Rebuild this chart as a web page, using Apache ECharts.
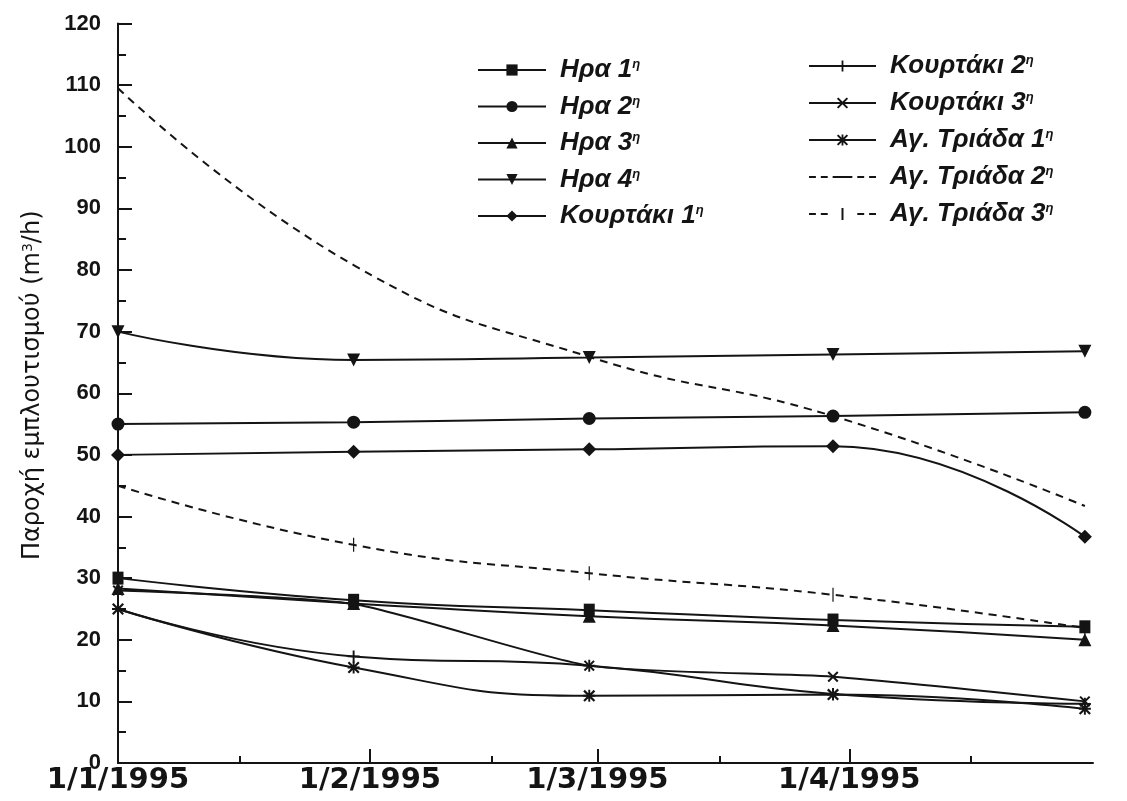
<!DOCTYPE html>
<html>
<head>
<meta charset="utf-8">
<script src="https://cdn.jsdelivr.net/npm/echarts@6/dist/echarts.min.js"></script>
<style>
  html, body { margin: 0; padding: 0; background: #ffffff; }
  #chart { width: 1127px; height: 801px; }
</style>
</head>
<body>
<div id="chart"></div>
<script>
// ---- data ----
const dates = ['1995-01-01', '1995-01-30', '1995-02-28', '1995-03-30', '1995-04-30'];
const majorTickDates = ['1995-01-01', '1995-02-01', '1995-03-01', '1995-04-01'];
const minorTickDates = ['1995-01-16', '1995-02-16', '1995-03-16', '1995-04-16'];
const axisStart = '1995-01-01';
const axisEnd = '1995-05-01';

const hera1 = [30, 26.4, 24.8, 23.2, 22.1];
const hera2 = [55, 55.3, 55.9, 56.3, 56.9];
const hera3 = [28.3, 25.9, 23.8, 22.3, 20];
const hera4 = [70, 65.4, 65.8, 66.3, 66.8];
const kourtaki1 = [50, 50.5, 50.9, 51.4, 36.7];
const kourtaki2 = [25, 17.3, 15.8, 11.2, 9.6];
const kourtaki3 = [28, 25.8, 15.8, 14, 10];
const agTriada1 = [25, 15.5, 10.9, 11.1, 8.8];
const agTriada2 = [109.5, 80.8, 65.9, 56.3, 41.7];
const agTriada3 = [45, 35.4, 30.8, 27.3, 21.9];

const seriesNames = ['Ηρα 1η', 'Ηρα 2η', 'Ηρα 3η', 'Ηρα 4η', 'Κουρτάκι 1η',
                     'Κουρτάκι 2η', 'Κουρτάκι 3η', 'Αγ. Τριάδα 1η', 'Αγ. Τριάδα 2η', 'Αγ. Τριάδα 3η'];

// ---- helpers ----
const toTs = s => { const p = s.split('-').map(Number); return Date.UTC(p[0], p[1] - 1, p[2]); };
const fmtDate = v => { const d = new Date(v); return d.getUTCDate() + '/' + (d.getUTCMonth() + 1) + '/' + d.getUTCFullYear(); };
const pairs = vals => dates.map((d, i) => [toTs(d), vals[i]]);

const INK = '#141414';
const FONT = '"Liberation Sans", Arial, sans-serif';
const WIDE = '"DejaVu Sans", "Liberation Sans", sans-serif';

const PLUS = 'path://M4.2,0 H5.8 V4.2 H10 V5.8 H5.8 V10 H4.2 V5.8 H0 V4.2 H4.2 Z';
const CROSS = 'path://M0,1.3 L1.3,0 L10,8.7 L8.7,10 Z M8.7,0 L10,1.3 L1.3,10 L0,8.7 Z';
const STAR = 'path://M0,1.3 L1.3,0 L10,8.7 L8.7,10 Z M8.7,0 L10,1.3 L1.3,10 L0,8.7 Z M4.2,0 H5.8 V10 H4.2 Z M0,4.2 H10 V5.8 H0 Z';
const BAR = 'path://M0,0 H3 V10 H0 Z';
// legend icons for the dashed series (68 x 14 box)
const ICON_AT2 = 'path://M0,6 H7 V8 H0 Z M12,6 H19 V8 H12 Z M24,6 H44 V8 H24 Z M49,6 H56 V8 H49 Z M61,6 H68 V8 H61 Z';
const ICON_AT3 = 'path://M0,6 H7 V8 H0 Z M12,6 H19 V8 H12 Z M33,1 H35 V13 H33 Z M49,6 H56 V8 H49 Z M61,6 H68 V8 H61 Z';

function mk(name, vals, symbol, size, extra) {
  return Object.assign({
    name: name,
    type: 'line',
    data: pairs(vals),
    smooth: 0.5,
    clip: false,
    symbol: symbol,
    symbolSize: size,
    showSymbol: symbol !== 'none',
    lineStyle: { color: INK, width: 2, type: 'solid' },
    itemStyle: { color: INK, borderWidth: 0 },
    emphasis: { disabled: true }
  }, extra || {});
}

const series = [
  mk(seriesNames[0], hera1, 'rect', [11, 13]),
  mk(seriesNames[1], hera2, 'circle', 13),
  mk(seriesNames[2], hera3, 'triangle', 13),
  mk(seriesNames[3], hera4, 'triangle', 13, { symbolRotate: 180 }),
  mk(seriesNames[4], kourtaki1, 'diamond', 14),
  mk(seriesNames[5], kourtaki2, PLUS, 12),
  mk(seriesNames[6], kourtaki3, CROSS, 11, { smooth: 0.2 }),
  mk(seriesNames[7], agTriada1, STAR, 12),
  mk(seriesNames[8], agTriada2, 'none', 0, { lineStyle: { color: INK, width: 2, type: [8, 6] } }),
  mk(seriesNames[9], agTriada3, BAR, [4, 14], { symbolKeepAspect: true, lineStyle: { color: INK, width: 2, type: [8, 6] } })
];

const legendText = {
  color: INK, fontFamily: FONT, fontStyle: 'italic', fontWeight: 'bold', fontSize: 26,
  lineHeight: 24, padding: [0, 0, 0, 9],
  rich: { sup: { fontFamily: FONT, fontStyle: 'italic', fontSize: 13, color: INK, verticalAlign: 'top', lineHeight: 14, padding: [0, 0, 10, 0] } }
};
const legendFmt = n => n.replace(/(\d)η$/, '$1{sup|η}');

const legend2Data = seriesNames.slice(5).map(n => {
  if (n === seriesNames[8]) return { name: n, icon: ICON_AT2 };
  if (n === seriesNames[9]) return { name: n, icon: ICON_AT3 };
  return { name: n };
});

const chart = echarts.init(document.getElementById('chart'), null, { renderer: 'canvas' });
chart.setOption({
  animation: false,
  backgroundColor: '#ffffff',
  grid: { left: 118, right: 34, top: 23.5, bottom: 38, containLabel: false },
  legend: [
    {
      data: seriesNames.slice(0, 5), orient: 'vertical', left: 472, top: 52,
      itemWidth: 68, itemHeight: 14, itemGap: 10.5, textStyle: legendText, formatter: legendFmt,
      selectedMode: false
    },
    {
      data: legend2Data, orient: 'vertical', left: 803, top: 48,
      itemWidth: 67, itemHeight: 14, itemGap: 11, textStyle: legendText, formatter: legendFmt,
      selectedMode: false, symbolKeepAspect: true
    }
  ],
  xAxis: [
    {
      type: 'value', min: toTs(axisStart), max: toTs(axisEnd), position: 'bottom',
      axisLine: { show: true, onZero: false, lineStyle: { color: INK, width: 2 } },
      axisTick: { show: true, inside: true, length: 14, lineStyle: { color: INK, width: 2 },
                  customValues: majorTickDates.map(toTs) },
      axisLabel: { show: true, customValues: majorTickDates.map(toTs), formatter: v => fmtDate(v),
                   color: INK, fontFamily: WIDE, fontWeight: 'bold', fontSize: 29, margin: 3 },
      splitLine: { show: false }
    },
    {
      type: 'value', min: toTs(axisStart), max: toTs(axisEnd), position: 'bottom',
      axisLine: { show: false },
      axisTick: { show: true, inside: true, length: 7, lineStyle: { color: INK, width: 2 },
                  customValues: minorTickDates.map(toTs) },
      axisLabel: { show: false },
      splitLine: { show: false }
    }
  ],
  yAxis: {
    type: 'value', min: 0, max: 120, interval: 10,
    name: 'Παροχή εμπλουτισμού (m{sup|3}/h)',
    nameLocation: 'middle', nameGap: 73, nameRotate: 90,
    nameTextStyle: { color: INK, fontFamily: WIDE, fontSize: 24, padding: [0, 0, 0, 16],
                     rich: { sup: { fontFamily: WIDE, fontSize: 14, color: INK, verticalAlign: 'top', padding: [0, 0, 9, 0] } } },
    axisLine: { show: true, lineStyle: { color: INK, width: 2 } },
    axisTick: { show: true, inside: true, length: 14, lineStyle: { color: INK, width: 2 } },
    minorTick: { show: true, splitNumber: 2, length: 8, lineStyle: { color: INK, width: 2 } },
    axisLabel: { color: INK, fontFamily: FONT, fontWeight: 'bold', fontSize: 22, margin: 17 },
    splitLine: { show: false },
    minorSplitLine: { show: false }
  },
  series: series
});
</script>
</body>
</html>
